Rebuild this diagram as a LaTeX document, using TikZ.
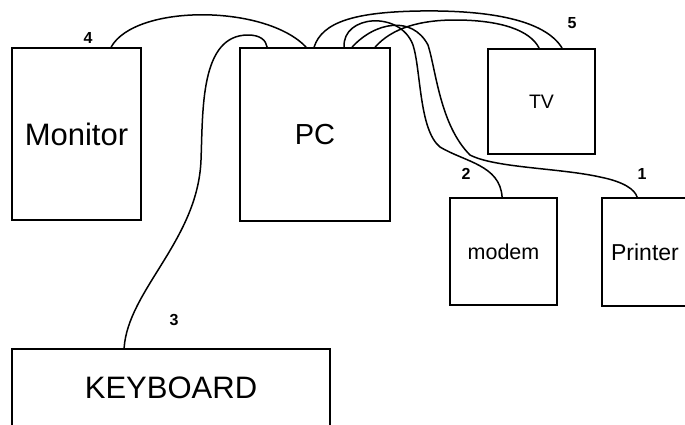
\documentclass[tikz,border=0pt]{standalone}
\usepackage{fontspec}
\setmainfont{Liberation Sans}
\usepackage{tikz}

\begin{document}
\begin{tikzpicture}[x=1pt, y=-1pt,
    box/.style={draw, rectangle, line width=1.8pt, inner sep=0pt},
    cable/.style={line width=1.5pt},
    num/.style={inner sep=0pt, font=\fontsize{16}{18}\selectfont\bfseries}]
        \useasboundingbox (0,0) rectangle (685,424);
        \clip (0,0) rectangle (685,424);

        % Geraete
        \node[box, minimum width=129pt, minimum height=172pt, font=\fontsize{31}{36}\selectfont] (monitor) at (76.5,134) {Monitor};
        \node[box, minimum width=150pt, minimum height=173pt, font=\fontsize{29}{34}\selectfont] (pc) at (315,134.5) {PC};
        \node[box, minimum width=107pt, minimum height=105pt, font=\fontsize{19.5}{22}\selectfont] (tv) at (541.5,101.5) {TV};
        \node[box, minimum width=107pt, minimum height=107pt, font=\fontsize{21.5}{25}\selectfont] (modem) at (503.5,251.5) {modem};
        \node[box, minimum width=86pt, minimum height=108pt, font=\fontsize{23}{27}\selectfont] (printer) at (645,252) {Printer};
        \node[box, minimum width=318pt, minimum height=77pt, font=\fontsize{31}{36}\selectfont] (keyboard) at (171,387.5) {KEYBOARD};

        % Nummern
        \node[num] (n1) at (642,174) {1};
        \node[num] (n2) at (466,174) {2};
        \node[num] (n3) at (174,320) {3};
        \node[num] (n4) at (88,38) {4};
        \node[num] (n5) at (572,23) {5};

        % Anschluesse oben an den Kaesten
        \coordinate (monA) at ([xshift=100pt]monitor.north west);
        \coordinate (kbA) at ([xshift=113pt]keyboard.north west);
        \coordinate (pcK) at ([xshift=28pt]pc.north west);
        \coordinate (pcM) at ([xshift=67pt]pc.north west);
        \coordinate (pcT1) at ([xshift=75pt]pc.north west);
        \coordinate (pcD) at ([xshift=105pt]pc.north west);
        \coordinate (pcP) at ([xshift=113pt]pc.north west);
        \coordinate (pcT2) at ([xshift=136pt]pc.north west);
        \coordinate (tvA) at ([xshift=52pt]tv.north west);
        \coordinate (tvB) at ([xshift=75pt]tv.north west);
        \coordinate (modemA) at ([xshift=53pt]modem.north west);
        \coordinate (printerA) at ([xshift=36pt]printer.north west);

        % Kabel
        \draw[cable] (monA) .. controls (135,4) and (265,4) .. (pcM);
        \draw[cable] (kbA) .. controls (128,290) and (198,240) .. (201,160)
            .. controls (203,110) and (200,35) .. (248,35)
            .. controls (260,35) and (266,40) .. (pcK);
        \draw[cable] (pcT1) .. controls (322,22) and (355,12) .. (420,11)
            .. controls (490,10) and (545,20) .. (tvB);
        \draw[cable] (pcT2) .. controls (392,28) and (420,20) .. (455,20)
            .. controls (500,20) and (530,30) .. (tvA);
        \draw[cable] (pcD) .. controls (342,15) and (400,10) .. (413,45)
            .. controls (421,70) and (419,130) .. (440,147)
            .. controls (465,162) and (500,165) .. (modemA);
        \draw[cable] (pcP) .. controls (375,22) and (412,15) .. (428,45)
            .. controls (436,70) and (440,125) .. (470,155)
            .. controls (495,168) and (560,168) .. (600,177)
            .. controls (625,182) and (635,190) .. (printerA);
    \end{tikzpicture}
\end{document}
